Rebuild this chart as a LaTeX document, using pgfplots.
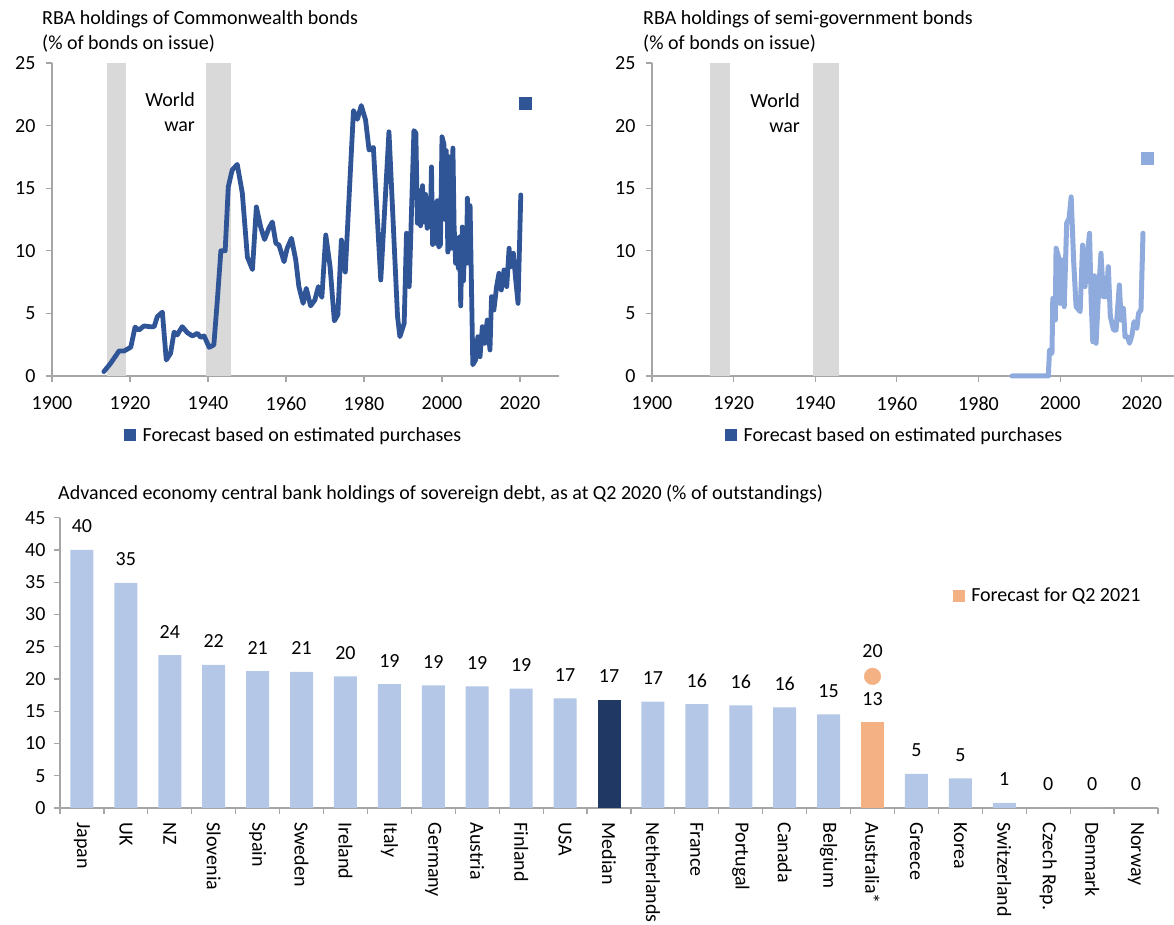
\documentclass[border=0pt]{standalone}
\usepackage{fontspec}
\setmainfont{Carlito}
\usepackage{pgfplots}
\pgfplotsset{compat=1.18}

\definecolor{cdark}{HTML}{2F5597}
\definecolor{clight}{HTML}{8FAADC}
\definecolor{cbar}{HTML}{B4C7E7}
\definecolor{cnavy}{HTML}{203864}
\definecolor{corange}{HTML}{F4B183}
\definecolor{cband}{HTML}{D9D9D9}
\definecolor{caxis}{HTML}{A6A6A6}

\newcommand{\tf}{\fontsize{20}{25}\selectfont}

\pgfplotsset{
 myaxis/.style={
   scale only axis,
   axis x line=bottom, axis y line=left,
   axis line style={caxis, line width=1.2pt, -},
   tick style={caxis, line width=1.2pt},
   tick align=outside,
   major tick length=6pt,
   minor tick length=6pt,
   ticklabel style={font=\tf, text=black},
   /pgf/number format/assume math mode=true,
   /pgf/number format/1000 sep={},
   clip=false,
   legend style={draw=none, fill=none, font=\tf, anchor=west, legend cell align=left, inner sep=0pt},
 }
}

\begin{document}
\begin{tikzpicture}
\useasboundingbox (0pt,0pt) rectangle (1174pt,925pt);

% ---------------- Panel 1: Commonwealth bonds ----------------
\begin{axis}[myaxis, width=507pt, height=313pt, at={(52pt,549pt)}, anchor=south west,
  xmin=1900, xmax=2030, ymin=0, ymax=25,
  xtick={1900,1920,...,2020}, ytick={0,5,...,25},
  xticklabel style={yshift=-11pt}, yticklabel style={xshift=-7pt},
  legend style={at={(0.142,-0.1885)}}]
\addplot[forget plot, draw=none, fill=cband] coordinates {(1914.1,25)(1919.0,25)} \closedcycle;
\addplot[forget plot, draw=none, fill=cband] coordinates {(1939.4,25)(1945.8,25)} \closedcycle;
\addplot[forget plot, cdark, line width=4.8pt, line join=round, line cap=round] coordinates {
(1913.3,0.35)(1915.0,1.0)(1917.2,2.0)(1918.5,2.0)(1920.2,2.3)(1921.3,3.9)(1922.3,3.67)(1923.6,4.0)
(1925.0,3.94)(1926.2,3.94)(1927.0,4.74)(1928.3,5.1)(1929.3,1.28)(1930.4,1.81)(1931.3,3.5)(1932.1,3.28)
(1933.4,3.94)(1934.7,3.46)(1936.0,3.2)(1937.3,3.41)(1938.1,3.09)(1939.0,3.2)(1940.3,2.29)(1941.5,2.48)
(1942.4,6.07)(1943.3,10.0)(1944.4,10.0)(1945.2,15.1)(1946.2,16.45)(1947.5,16.9)(1948.8,14.6)(1950.1,9.5)
(1951.4,8.5)(1952.4,13.5)(1953.5,11.9)(1954.5,10.9)(1955.6,11.8)(1956.5,12.3)(1957.4,10.6)(1958.2,10.46)
(1959.5,9.13)(1960.3,10.2)(1961.4,11.0)(1962.5,9.27)(1963.3,7.14)(1964.4,5.8)(1965.2,7.0)(1966.3,5.6)
(1967.4,6.07)(1968.3,7.14)(1969.2,6.28)(1970.2,11.26)(1971.3,8.73)(1972.4,4.4)(1973.3,4.9)(1974.2,10.86)
(1975.2,8.3)(1977.3,21.2)(1978.3,20.5)(1979.3,21.6)(1980.4,20.45)(1981.3,18.05)(1982.4,18.26)(1984.3,7.67)
(1986.4,19.5)(1988.6,4.74)(1989.2,3.14)(1990.3,4.21)(1990.9,11.4)(1991.6,7.14)(1992.8,19.6)(1993.3,19.4)
(1993.7,12.2)(1994.1,14.8)(1994.5,12.0)(1995.0,15.2)(1995.4,12.3)(1995.8,14.5)(1996.2,11.8)(1996.6,13.5)
(1997.0,11.9)(1997.3,16.7)(1997.6,10.5)(1998.0,13.8)(1998.4,10.6)(1998.8,14.0)(1999.2,10.3)(1999.6,10.5)
(2000.0,19.1)(2000.5,18.5)(2000.8,12.5)(2001.1,18.0)(2001.5,9.9)(2001.9,17.5)(2002.3,10.2)(2002.8,18.2)
(2003.1,12.0)(2003.5,9.0)(2003.8,11.0)(2004.2,8.6)(2004.5,11.1)(2004.8,5.6)(2005.2,11.9)(2005.5,7.6)
(2005.9,11.5)(2006.3,9.0)(2006.5,14.2)(2006.9,9.5)(2007.2,13.6)(2007.9,0.9)(2008.6,1.28)(2009.2,3.14)
(2009.75,1.54)(2010.35,3.94)(2010.95,2.61)(2011.6,4.47)(2012.3,2.08)(2012.7,6.34)(2013.3,5.27)(2014.0,7.14)
(2014.6,8.2)(2015.2,6.87)(2015.9,8.47)(2016.6,7.14)(2017.2,10.2)(2017.6,8.73)(2018.3,9.8)(2018.9,7.67)
(2019.5,5.8)(2020.2,14.46)
};
\addplot[forget plot, only marks, mark=square*, mark size=6pt, color=cdark] coordinates {(2021.3,21.75)};
\addlegendimage{legend image code/.code={\fill[cdark] (0pt,-5.5pt) rectangle (11pt,5.5pt); \path (16pt,0pt);}}
\addlegendentry{Forecast based on estimated purchases}
\node[anchor=east, align=right, font=\tf, inner sep=0pt] at (axis cs:1936.7,21.1) {World\\war};
\end{axis}

% ---------------- Panel 2: semi-government bonds ----------------
\begin{axis}[myaxis, width=522pt, height=313pt, at={(652pt,549pt)}, anchor=south west,
  xmin=1900, xmax=2027.9, ymin=0, ymax=25,
  xtick={1900,1920,...,2020}, ytick={0,5,...,25},
  xticklabel style={yshift=-11pt}, yticklabel style={xshift=-7pt},
  legend style={at={(0.14,-0.1885)}}]
\addplot[forget plot, draw=none, fill=cband] coordinates {(1914.3,25)(1919.1,25)} \closedcycle;
\addplot[forget plot, draw=none, fill=cband] coordinates {(1939.5,25)(1945.8,25)} \closedcycle;
\addplot[forget plot, clight, line width=5pt, line join=round, line cap=round] coordinates {
(1988.2,0)(1997.1,0)(1997.4,2.08)(1998.0,1.81)(1998.2,6.2)(1998.8,4.47)(1999.0,10.2)(1999.6,9.53)
(2000.0,5.8)(2000.4,9.27)(2001.0,5.54)(2001.6,12.2)(2002.2,12.6)(2002.7,14.3)(2003.3,9.27)(2003.9,5.54)
(2004.9,5.14)(2005.5,10.46)(2006.1,7.14)(2006.7,9.8)(2007.2,11.4)(2007.6,6.0)(2008.0,2.74)(2008.4,8.0)
(2008.8,2.61)(2009.4,6.6)(2010.0,9.8)(2010.6,6.34)(2011.3,6.34)(2011.8,8.73)(2012.3,4.74)(2013.1,3.67)
(2013.7,3.67)(2014.5,7.27)(2014.95,4.47)(2015.5,5.4)(2015.9,3.14)(2016.5,3.14)(2017.0,2.61)(2017.6,3.27)
(2018.1,4.34)(2018.8,3.8)(2019.2,5.0)(2019.8,5.27)(2020.3,11.4)
};
\addplot[forget plot, only marks, mark=square*, mark size=6.3pt, color=clight] coordinates {(2021.3,17.4)};
\addlegendimage{legend image code/.code={\fill[cdark] (0pt,-5.5pt) rectangle (11pt,5.5pt); \path (16pt,0pt);}}
\addlegendentry{Forecast based on estimated purchases}
\node[anchor=east, align=right, font=\tf, inner sep=0pt] at (axis cs:1936.3,21.0) {World\\war};
\end{axis}

% ---------------- Panel 3: bar chart ----------------
\begin{axis}[myaxis, width=1098pt, height=290.3pt, at={(60pt,117pt)}, anchor=south west,
  xmin=-0.5, xmax=24.5, ymin=0, ymax=45,
  ytick={0,5,...,45},
  yticklabel style={xshift=-5pt},
  xtick={0,...,24},
  xticklabels={Japan,UK,NZ,Slovenia,Spain,Sweden,Ireland,Italy,Germany,Austria,Finland,USA,Median,Netherlands,France,Portugal,Canada,Belgium,Australia*,Greece,Korea,Switzerland,Czech Rep.,Denmark,Norway},
  xticklabel style={rotate=-90, anchor=west, font=\tf, xshift=5pt},
  major x tick style={draw=none},
  minor xtick={-0.5,0.5,...,24.5},
  legend style={at={(0.813,0.731)}}]
\addplot[forget plot, ybar, bar width=23pt, bar shift=0pt, fill=cbar, draw=none,
  nodes near coords, point meta=explicit symbolic,
  every node near coord/.style={anchor=center, yshift=23.5pt, font=\tf, text=black}]
  table[x=x, y=y, meta=lab] {
x y lab
0 40.0 40
1 34.9 35
2 23.7 24
3 22.2 22
4 21.2 21
5 21.1 21
6 20.4 20
7 19.2 19
8 19.0 19
9 18.85 19
10 18.5 19
11 17.0 17
13 16.5 17
14 16.1 16
15 15.9 16
16 15.6 16
17 14.5 15
19 5.3 5
20 4.6 5
21 0.8 1
22 0 0
23 0 0
24 0 0
};
\addplot[forget plot, ybar, bar width=23pt, bar shift=0pt, fill=cnavy, draw=none,
  nodes near coords, point meta=explicit symbolic,
  every node near coord/.style={anchor=center, yshift=23.5pt, font=\tf, text=black}]
  table[x=x, y=y, meta=lab] {
x y lab
12 16.75 17
};
\addplot[forget plot, ybar, bar width=23pt, bar shift=0pt, fill=corange, draw=none,
  nodes near coords, point meta=explicit symbolic,
  every node near coord/.style={anchor=center, yshift=23pt, font=\tf, text=black}]
  table[x=x, y=y, meta=lab] {
x y lab
18 13.3 13
};
\addplot[forget plot, only marks, mark=*, mark size=8.3pt, color=corange,
  nodes near coords, point meta=explicit symbolic,
  every node near coord/.style={anchor=center, yshift=25pt, font=\tf, text=black}]
  table[x=x, y=y, meta=lab] {
x y lab
18 20.4 20
};
\addlegendimage{legend image code/.code={\fill[corange] (0pt,-5.5pt) rectangle (11pt,5.5pt); \path (16pt,0pt);}}
\addlegendentry{Forecast for Q2 2021}
\end{axis}

% ---------------- Titles ----------------
\node[anchor=base west, inner sep=0pt, font=\tf] at (42pt,900pt) {RBA holdings of Commonwealth bonds};
\node[anchor=base west, inner sep=0pt, font=\tf] at (42pt,875pt) {(\% of bonds on issue)};
\node[anchor=base west, inner sep=0pt, font=\tf] at (643pt,900pt) {RBA holdings of semi-government bonds};
\node[anchor=base west, inner sep=0pt, font=\tf] at (643pt,875pt) {(\% of bonds on issue)};
\node[anchor=base west, inner sep=0pt, font=\tf] at (58pt,425pt) {Advanced economy central bank holdings of sovereign debt, as at Q2 2020 (\% of outstandings)};
\end{tikzpicture}
\end{document}
